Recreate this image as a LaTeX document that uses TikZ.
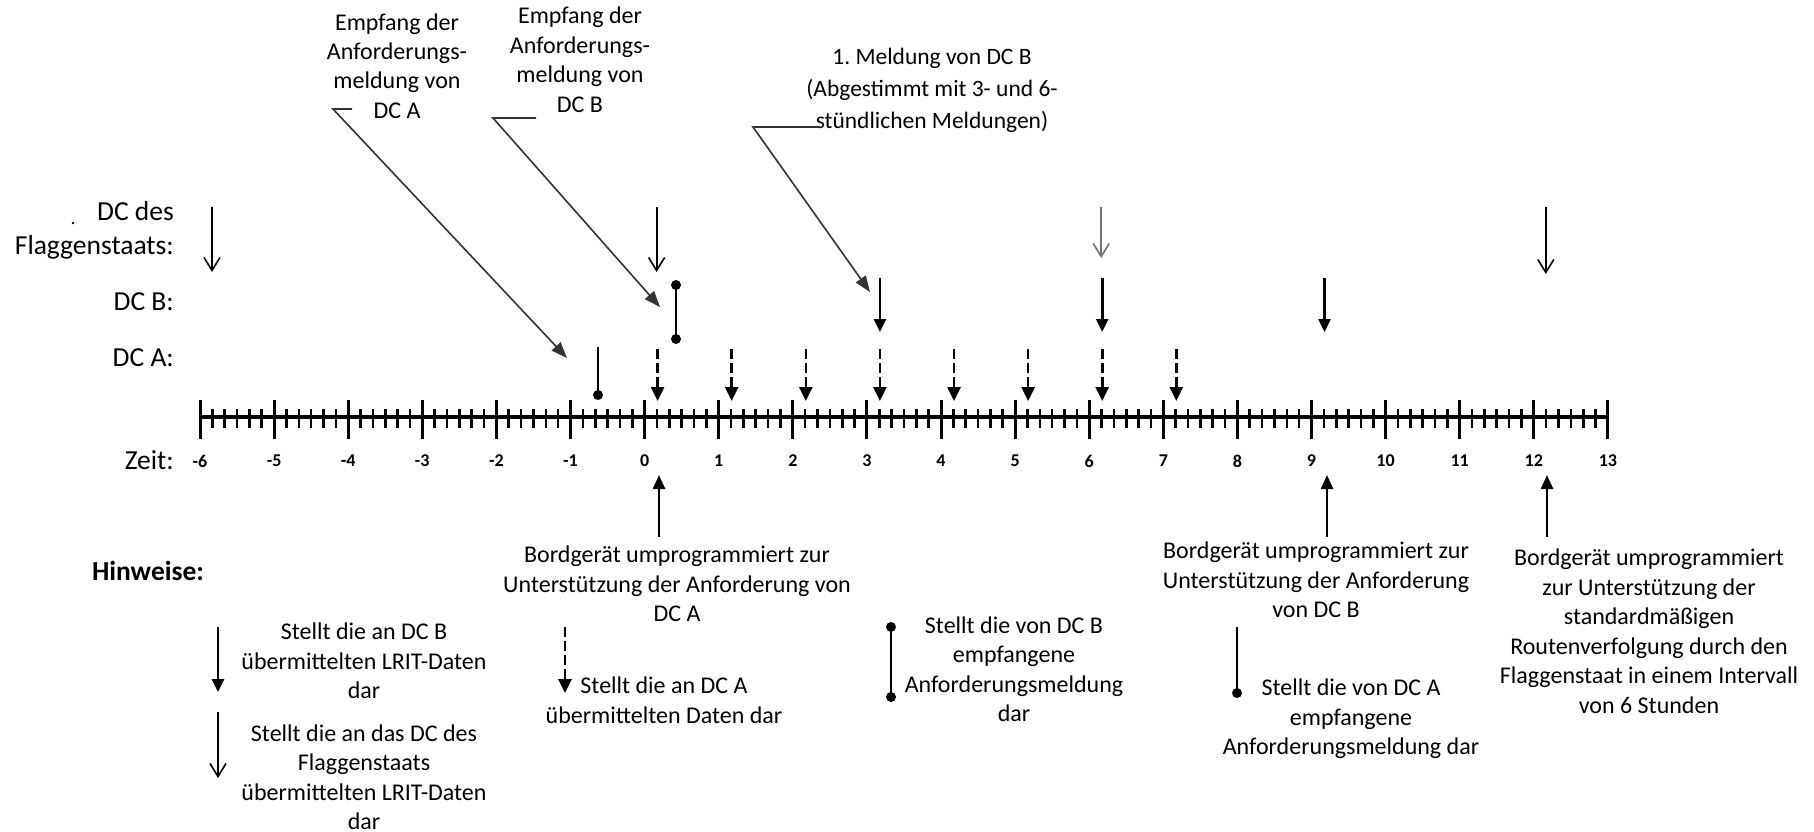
\documentclass[tikz,border=0pt]{standalone}
\usepackage{fontspec}
\setmainfont{Carlito}
\usetikzlibrary{arrows.meta}
\begin{document}
\begin{tikzpicture}[x=1pt,y=-1pt,
  txt/.style={align=center, font=\fontsize{24}{29.5}\selectfont, inner sep=0pt},
  rowlbl/.style={anchor=east, align=right, font=\fontsize{27.5}{34}\selectfont, inner sep=0pt},
  ticklbl/.style={font=\fontsize{18}{20}\selectfont\bfseries, inner sep=0pt},
  flagarrow/.style={line width=1.8pt, -{Straight Barb[length=13pt,width=16pt,line width=1.6pt]}},
  dcbarrow/.style={line width=2.6pt, -{Triangle[length=13pt,width=12pt]}},
  dcaarrow/.style={line width=2.6pt, dash pattern=on 10pt off 4pt, -{Triangle[length=14pt,width=13pt]}},
  callout/.style={line width=1.6pt, draw=black!80, -{Triangle[length=16pt,width=12pt]}},
  uparrow/.style={line width=2.4pt, -{Triangle[length=14pt,width=12pt]}},
  reqline/.style={line width=2.4pt},
  reqdot/.style={circle, fill, inner sep=0pt, minimum size=10pt},
]
\useasboundingbox (0,0) rectangle (1814,832);

% ---- row labels ----
\node[rowlbl] (rowflag) at (174,230) {DC des\\Flaggenstaats:};
\node[rowlbl] (rowb) at (174,302) {DC B:};
\node[rowlbl] (rowa) at (174,358) {DC A:};
\node[rowlbl] (rowt) at (174,460) {Zeit:};
\fill (73,223) circle (1.4pt);

% ---- time axis ----
\coordinate (axL) at (200,417);
\coordinate (axR) at (1608,417);
\draw[line width=3.2pt] (axL) -- (axR);
\foreach \h in {-6,...,13}{
  \pgfmathtruncatemacro\i{\h+6}
  \draw[line width=3pt] ({200+74.1*(\h+6)},400) -- ++(0,39);
  \node[ticklbl] (t\i) at ({200+74.1*(\h+6)},461) {\h};
}
\foreach \h in {-6,...,12}{
  \foreach \m in {1,...,5}{
    \draw[line width=2.6pt] ({200+74.1*(\h+6+\m/6)},409) -- ++(0,19);
  }
}

% ---- data sent to the flag state DC ----
\foreach \h/\e/\c in {-6/272/black, 0/272/black, 6/258/black!55, 12/274/black}{
  \pgfmathtruncatemacro\i{\h+6}
  \coordinate (fs\i) at ({212+74.1*(\h+6)},207);
  \coordinate (fe\i) at ({212+74.1*(\h+6)},\e);
  \draw[flagarrow,draw=\c] (fs\i) -- (fe\i);
}

% ---- data sent to DC B ----
\foreach \h in {3,6,9}{
  \coordinate (bs\h) at ({213+74.1*(\h+6)},278);
  \coordinate (be\h) at ({213+74.1*(\h+6)},332);
  \draw[dcbarrow] (bs\h) -- (be\h);
}

% ---- data sent to DC A ----
\foreach \h in {0,...,7}{
  \coordinate (as\h) at ({213+74.1*(\h+6)},349);
  \coordinate (ae\h) at ({213+74.1*(\h+6)},401);
  \draw[dcaarrow] (as\h) -- (ae\h);
}

% ---- request messages received ----
\coordinate (rat) at (598,347);
\node[reqdot] (ra) at (598,395) {};
\draw[reqline] (rat) -- (ra.center);
\node[reqdot] (rb1) at (676,285) {};
\node[reqdot] (rb2) at (676,339) {};
\draw[reqline] (rb1.center) -- (rb2.center);

% ---- callouts at the top ----
\node[txt] (lblA) at (397,66) {Empfang der\\Anforderungs-\\meldung von\\DC A};
\node[txt] (lblB) at (580,60) {Empfang der\\Anforderungs-\\meldung von\\DC B};
\node[txt, font=\fontsize{23.5}{32}\selectfont] (lblM) at (932,90) {1.\ Meldung von DC B\\(Abgestimmt mit 3- und 6-\\stündlichen Meldungen)};

\coordinate (c1a) at (352,109);
\coordinate (c1b) at (333,109);
\coordinate (c1t) at (567,358);
\draw[callout] (c1a) -- (c1b) -- (c1t);
\coordinate (c2a) at (536,118);
\coordinate (c2b) at (493,118);
\coordinate (c2t) at (660,307);
\draw[callout] (c2a) -- (c2b) -- (c2t);
\coordinate (c3a) at (820,127);
\coordinate (c3b) at (753,127);
\coordinate (c3t) at (870,292);
\draw[callout] (c3a) -- (c3b) -- (c3t);

% ---- reprogramming events ----
\node[txt] (rep0) at (677,584) {Bordgerät umprogrammiert zur\\Unterstützung der Anforderung von\\DC A};
\node[txt] (rep9) at (1316,580) {Bordgerät umprogrammiert zur\\Unterstützung der Anforderung\\von DC B};
\node[txt] (rep12) at (1649,631) {Bordgerät umprogrammiert\\zur Unterstützung der\\standardmäßigen\\Routenverfolgung durch den\\Flaggenstaat in einem Intervall\\von 6 Stunden};
\coordinate (u0s) at (659,537);  \coordinate (u0e) at (659,475);
\coordinate (u9s) at (1327,537); \coordinate (u9e) at (1327,475);
\coordinate (u12s) at (1547,537); \coordinate (u12e) at (1547,475);
\draw[uparrow] (u0s) -- (u0e);
\draw[uparrow] (u9s) -- (u9e);
\draw[uparrow] (u12s) -- (u12e);

% ---- legend ----
\node[font=\fontsize{27.5}{34}\selectfont\bfseries, inner sep=0pt] (notes) at (148,571) {Hinweise:};

\coordinate (k1s) at (218,627); \coordinate (k1e) at (218,692);
\draw[dcbarrow] (k1s) -- (k1e);
\node[txt] (k1) at (364,661) {Stellt die an DC B\\übermittelten LRIT-Daten\\dar};

\coordinate (k2s) at (218,712); \coordinate (k2e) at (218,778);
\draw[flagarrow] (k2s) -- (k2e);
\node[txt] (k2) at (364,777) {Stellt die an das DC des\\Flaggenstaats\\übermittelten LRIT-Daten\\dar};

\coordinate (k3s) at (565,627); \coordinate (k3e) at (565,693);
\draw[dcaarrow] (k3s) -- (k3e);
\node[txt] (k3) at (664,700) {Stellt die an DC A\\übermittelten Daten dar};

\node[reqdot] (k4a) at (891,627) {};
\node[reqdot] (k4b) at (891,697) {};
\draw[reqline] (k4a.center) -- (k4b.center);
\node[txt] (k4) at (1014,669) {Stellt die von DC B\\empfangene\\Anforderungsmeldung\\dar};

\coordinate (k5s) at (1237,627);
\node[reqdot] (k5e) at (1237,693) {};
\draw[reqline] (k5s) -- (k5e.center);
\node[txt] (k5) at (1351,719) {Stellt die von DC A\\empfangene\\Anforderungsmeldung dar};

\end{tikzpicture}
\end{document}
